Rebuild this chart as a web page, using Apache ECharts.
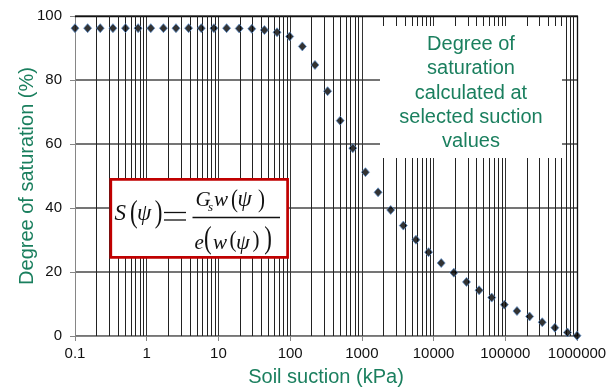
<!DOCTYPE html>
<html><head><meta charset="utf-8">
<script src="https://cdn.jsdelivr.net/npm/echarts@6/dist/echarts.min.js"></script>
<style>html,body{margin:0;padding:0;background:#fff}#c{width:608px;height:390px}</style>
</head><body><div id="c"></div><script>
// ---- data ----
const suction = [0.1, 0.15, 0.225, 0.338, 0.506, 0.759, 1.14, 1.71, 2.56, 3.84, 5.77, 8.65,
  13.0, 19.5, 29.2, 43.8, 65.7, 98.5, 148, 222, 333, 499, 748, 1122, 1683, 2525, 3787, 5681,
  8521, 12781, 19172, 28758, 43137, 64706, 97059, 145588, 218382, 327573, 491360, 737040, 1000000];
const saturation = [96.2, 96.2, 96.2, 96.2, 96.2, 96.2, 96.2, 96.2, 96.2, 96.2, 96.2, 96.2,
  96.2, 96.1, 96.0, 95.6, 94.9, 93.6, 90.5, 84.7, 76.5, 67.3, 58.7, 51.2, 44.9, 39.4, 34.5,
  30.1, 26.2, 22.8, 19.8, 16.9, 14.3, 12.0, 9.8, 7.8, 6.1, 4.3, 2.6, 1.1, 0.1];
const xTickLabels = ['0.1', '1', '10', '100', '1000', '10000', '100000', '1000000'];
const yTickLabels = ['0', '20', '40', '60', '80', '100'];
const xTitle = 'Soil suction (kPa)';
const yTitle = 'Degree of saturation (%)';
const noteLines = ['Degree of', 'saturation', 'calculated at', 'selected suction', 'values'];

// minor log gridlines (2..9 in each decade)
const minorGrid = [];
for (let d = -1; d <= 5; d++) for (let m = 2; m <= 9; m++) minorGrid.push(+(m * Math.pow(10, d)).toPrecision(3));

const GREEN = '#1a7f5e';
const SERIF = 'Liberation Serif, Times New Roman, serif';

function glyph(text, x, baseline, size, italic) {
  const y = baseline - 0.3375 * size;
  return { type: 'text', z: 102, x: x, y: y, silent: true,
    style: { text: text, fontSize: size, fontFamily: SERIF, fontStyle: italic ? 'italic' : 'normal',
      fill: '#111', align: 'left', verticalAlign: 'middle', textAlign: 'left', textVerticalAlign: 'middle' } };
}
// tall, thin parenthesis: ink placed from inkLeft, spanning inkTop..inkBottom
function paren(text, inkLeft, inkTop, inkBottom, f) {
  const k = (inkBottom - inkTop) / (0.871 * f);
  const c = (inkTop + inkBottom) / 2;
  const y = c - 0.079 * f * k;
  const x = inkLeft - (text === '(' ? 0.048 : 0.029) * f;
  return { type: 'text', z: 102, x: x, y: y, scaleY: k, silent: true,
    style: { text: text, fontSize: f, fontFamily: SERIF, fill: '#111',
      align: 'left', verticalAlign: 'middle', textAlign: 'left', textVerticalAlign: 'middle' } };
}
function hline(x1, x2, y, w) {
  return { type: 'line', z: 102, silent: true, shape: { x1: x1, y1: y, x2: x2, y2: y }, style: { stroke: '#111', lineWidth: w } };
}

const chart = echarts.init(document.getElementById('c'), null, { renderer: 'canvas' });
chart.setOption({
  animation: false,
  backgroundColor: '#fff',
  grid: { left: 75, right: 31, top: 16, bottom: 54, containLabel: false, outerBoundsMode: 'none' },
  xAxis: [{
    type: 'log', logBase: 10, min: 0.1, max: 1000000,
    name: xTitle, nameLocation: 'middle', nameGap: 31, nameMoveOverlap: false,
    nameTextStyle: { color: GREEN, fontSize: 20, fontFamily: 'Liberation Sans, Arial' },
    axisLine: { show: true, onZero: false, lineStyle: { color: '#868686', width: 1 } },
    axisTick: { show: true, inside: false, length: 5, lineStyle: { color: '#868686' } },
    axisLabel: { margin: 10, fontSize: 15, color: '#111', fontFamily: 'Liberation Sans, Arial',
      formatter: v => xTickLabels[Math.round(Math.log10(v)) + 1] },
    splitLine: { show: true, lineStyle: { color: '#333', width: 1 } },
    minorTick: { show: false }, minorSplitLine: { show: false }
  }, {
    type: 'log', logBase: 10, min: 0.1, max: 1000000, position: 'top',
    axisLine: { show: true, onZero: false, lineStyle: { color: '#111', width: 1.3 } },
    axisTick: { show: false }, axisLabel: { show: false }, splitLine: { show: false }
  }],
  yAxis: [{
    type: 'value', min: 0, max: 100, interval: 20,
    name: yTitle, nameLocation: 'middle', nameGap: 38, nameRotate: 90, nameMoveOverlap: false,
    nameTextStyle: { color: GREEN, fontSize: 20, fontFamily: 'Liberation Sans, Arial' },
    axisLine: { show: true, lineStyle: { color: '#868686', width: 1 } },
    axisTick: { show: true, inside: false, length: 5, lineStyle: { color: '#868686' } },
    axisLabel: { margin: 13, fontSize: 15, color: '#111', fontFamily: 'Liberation Sans, Arial',
      formatter: v => yTickLabels[Math.round(v / 20)] },
    splitLine: { show: true, lineStyle: { color: '#474747', width: 1.5 } }
  }, {
    type: 'value', min: 0, max: 100, interval: 20, position: 'right',
    axisLine: { show: true, lineStyle: { color: '#111', width: 1.3 } },
    axisTick: { show: false }, axisLabel: { show: false }, splitLine: { show: false }
  }],
  series: [{
    type: 'scatter', xAxisIndex: 0, yAxisIndex: 0, z: 3,
    data: suction.map((s, i) => [s, saturation[i]]),
    symbol: 'diamond', symbolSize: [8, 9],
    itemStyle: { color: '#000', borderColor: '#5b8fd0', borderWidth: 0.9 },
    emphasis: { disabled: true },
    markLine: {
      silent: true, z: 1, symbol: ['none', 'none'], label: { show: false },
      emphasis: { disabled: true },
      lineStyle: { color: '#222', width: 1, type: 'solid' },
      data: minorGrid.map(v => ({ xAxis: v }))
    }
  }],
  graphic: [
    // note box
    { type: 'rect', z: 100, silent: true, shape: { x: 380, y: 26, width: 182, height: 132 }, style: { fill: '#fff' } },
    { type: 'text', z: 101, silent: true, x: 471, y: 93,
      style: { text: noteLines.join('\n'), fontSize: 20, lineHeight: 24.4, fontFamily: 'Liberation Sans, Arial',
        fill: GREEN, align: 'center', verticalAlign: 'middle', textAlign: 'center', textVerticalAlign: 'middle' } },
    // formula box
    { type: 'rect', z: 100, silent: true, shape: { x: 110.8, y: 179.3, width: 176.8, height: 78 },
      style: { fill: '#fff', stroke: '#C00000', lineWidth: 2.7 } },
    glyph('S', 114.5, 222, 23, true),
    paren('(', 131, 201.7, 230, 23),
    glyph('\u03C8', 137, 222, 23, true),
    paren(')', 155.5, 201.7, 230, 23),
    hline(164, 186, 212.5, 1.3),
    hline(164, 186, 220, 1.3),
    hline(192.5, 280, 217.5, 1.3),
    // numerator
    glyph('G', 195.5, 208, 21, true),
    glyph('s', 208, 211.5, 13, true),
    glyph('w', 214, 208, 21, true),
    paren('(', 232, 191.7, 213.3, 21),
    glyph('\u03C8', 237.5, 208, 23, true),
    paren(')', 258.5, 191.7, 213.3, 21),
    // denominator
    glyph('e', 194.5, 251, 21, true),
    paren('(', 205, 228.3, 256.7, 23),
    glyph('w', 213, 251, 21, true),
    paren('(', 230.5, 232.3, 253.3, 21),
    glyph('\u03C8', 236, 251, 22, true),
    paren(')', 253, 232.3, 253.3, 21),
    paren(')', 265, 228.3, 256.7, 23)
  ]
});
</script></body></html>
